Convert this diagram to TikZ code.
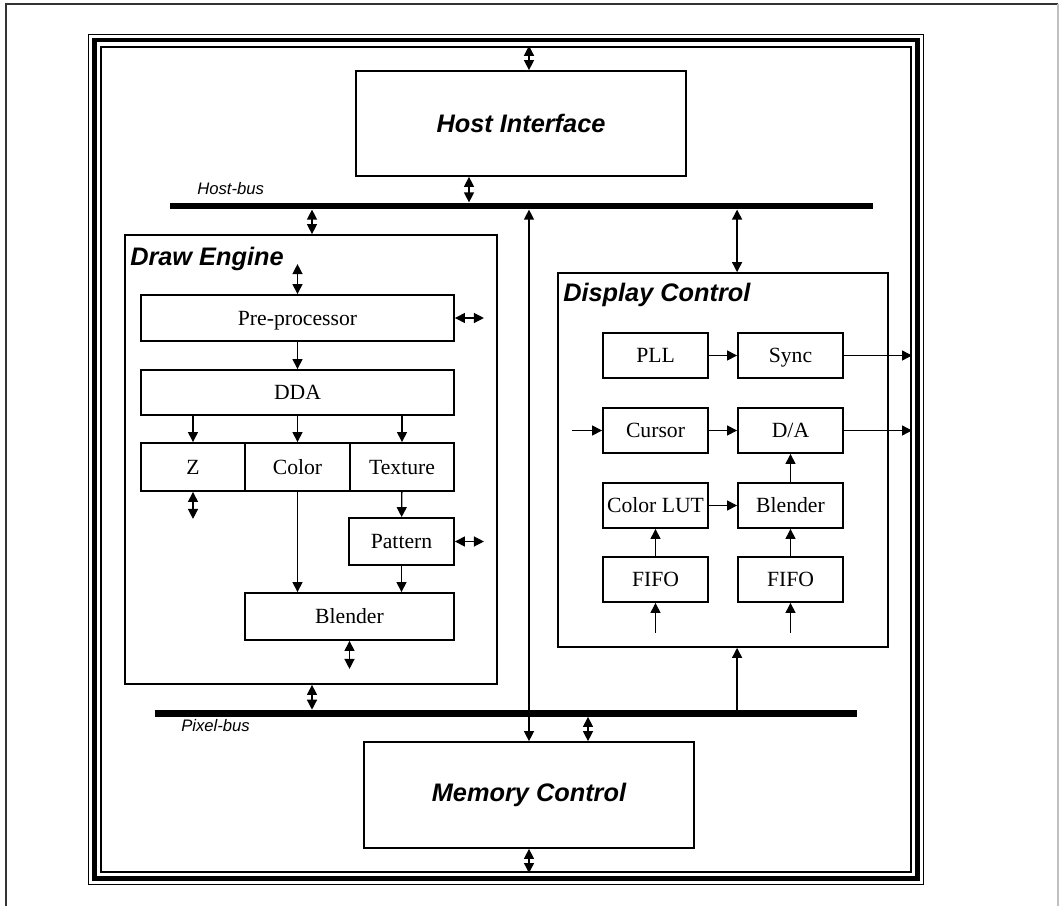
\documentclass[tikz,border=0pt]{standalone}
\usepackage{fontspec}
\setmainfont{Liberation Serif}
\setsansfont{Liberation Sans}
\usetikzlibrary{arrows.meta}

\begin{document}
\begin{tikzpicture}[x=0.75pt,y=-0.75pt,
    box/.style={draw,line width=1.4pt,inner sep=0pt,minimum width=78.75pt,minimum height=33.75pt,text height=10.5pt,text depth=0pt,font=\fontsize{16.25}{18}\selectfont},
    bigbox/.style={draw,line width=1.3pt,inner sep=0pt,font=\fontsize{19}{22}\selectfont\sffamily\bfseries\itshape},
    blocktitle/.style={inner sep=0pt,anchor=base west,font=\fontsize{19}{22}\selectfont\sffamily\bfseries\itshape},
    buslabel/.style={inner sep=0pt,anchor=base west,font=\fontsize{12.5}{15}\selectfont\sffamily\itshape},
    bus/.style={fill=black,inner sep=0pt,minimum height=5pt},
    sig/.style={line width=1pt,-{Triangle[length=7.5pt,width=7.5pt]}},
    dbl/.style={line width=1pt,{Triangle[length=7.5pt,width=7.5pt]}-{Triangle[length=7.5pt,width=7.5pt]}}]
    \useasboundingbox (0,0) rectangle (1059,906);

    % page frame
    \draw[line width=1.3pt,black!80] (6,906) -- (6,4) -- (1058,4);
    \draw[line width=0.8pt,black!25] (1058,4) -- (1058,906);

    % triple chip frame
    \node[draw,line width=1.5pt,inner sep=0pt,minimum width=607.5pt,minimum height=618.9pt] (frame) at (506,459.4) {};
    \draw[line width=3.3pt] ([shift={(-5.5,-5.5)}]frame.north west) rectangle ([shift={(5.5,5.5)}]frame.south east);
    \draw[line width=1pt] ([shift={(-11.4,-11.4)}]frame.north west) rectangle ([shift={(11.4,11.4)}]frame.south east);

    % host side
    \node[bigbox,minimum width=247.5pt,minimum height=78.75pt] (hostif) at (521,123.5) {Host Interface};
    \node[bus,minimum width=527.25pt] (hbus) at (521.5,206) {};
    \node[buslabel] (hblabel) at (197,194) {Host-bus};

    % draw engine
    \node[bigbox,minimum width=279pt,minimum height=336.75pt] (de) at (311,459.5) {};
    \node[blocktitle] (detitle) at (130,265) {Draw Engine};
    \node[box,minimum width=234.75pt,minimum height=34.5pt] (prep) at (297.5,318) {Pre-processor};
    \node[box,minimum width=234.75pt] (dda) at (297.5,392.5) {DDA};
    \node[box,minimum width=78pt,minimum height=36pt] (z) at (193,467) {Z};
    \node[box,minimum height=36pt] (color) at (297.5,467) {Color};
    \node[box,minimum width=78pt,minimum height=36pt] (texture) at (402,467) {Texture};
    \node[box,minimum height=35.25pt] (pattern) at (401.5,541.5) {Pattern};
    \node[box,minimum width=156.75pt,minimum height=35.25pt] (blend) at (349.5,616.5) {Blender};

    % display control
    \node[bigbox,minimum width=247.5pt,minimum height=280.5pt] (dc) at (723,460) {};
    \node[blocktitle] (dctitle) at (563,301) {Display Control};
    \node[box] (pll) at (655.5,355.5) {PLL};
    \node[box] (sync) at (790.5,355.5) {Sync};
    \node[box] (cursor) at (655.5,430.5) {Cursor};
    \node[box] (da) at (790.5,430.5) {D/A};
    \node[box] (lut) at (655.5,505.5) {Color LUT};
    \node[box] (dblend) at (790.5,505.5) {Blender};
    \node[box] (fifoa) at (655.5,579.5) {FIFO};
    \node[box] (fifob) at (790.5,579.5) {FIFO};

    % memory side
    \node[bus,minimum width=526.5pt] (pbus) at (506,713.3) {};
    \node[buslabel] (pblabel) at (181,731) {Pixel-bus};
    \node[bigbox,minimum width=247.5pt,minimum height=79.5pt] (memctl) at (529,795) {Memory Control};

    % bus connections
    \draw[dbl] (frame.north -| memctl) -- (hostif.north -| memctl);
    \draw[dbl] (hostif.south -| 469,0) -- (hbus.north -| 469,0);
    \draw[dbl] (hbus.south -| memctl) -- (memctl.north);
    \draw[dbl] (hbus.south -| 312,0) -- (de.north -| 312,0);
    \draw[dbl] (hbus.south -| sync.west) -- (dc.north -| sync.west);
    \draw[sig] (pbus.north -| sync.west) -- (dc.south -| sync.west);
    \draw[dbl] (de.south -| 312,0) -- (pbus.north -| 312,0);
    \draw[dbl] (pbus.south -| 588,0) -- (memctl.north -| 588,0);
    \draw[dbl] (memctl.south) -- (frame.south -| memctl);

    % draw engine paths
    \draw[dbl] (prep.north) -- +(0,-30);
    \draw[dbl] (prep.east) -- +(29,0);
    \draw[sig] (prep) -- (dda);
    \draw[sig] (dda.south -| z) -- (z);
    \draw[sig] (dda) -- (color);
    \draw[sig] (dda.south -| texture) -- (texture);
    \draw[dbl] (z.south) -- +(0,27);
    \draw[sig] (color.south) -- (blend.north -| color);
    \draw[sig] (texture) -- (pattern);
    \draw[dbl] (pattern.east) -- +(29,0);
    \draw[sig] (pattern.south) -- (blend.north -| pattern);
    \draw[dbl] (blend.south) -- +(0,28);

    % display control paths
    \draw[sig] (pll) -- (sync);
    \draw[sig] (cursor) -- (da);
    \draw[sig] (lut) -- (dblend);
    \draw[sig] (dblend) -- (da);
    \draw[sig] (fifoa) -- (lut);
    \draw[sig] (fifob) -- (dblend);
    \draw[sig] (sync.east) -- (sync.east -| frame.east);
    \draw[sig] (da.east) -- (da.east -| frame.east);
    \draw[sig] (cursor.west) ++(-30,0) -- (cursor.west);
    \draw[sig] (fifoa.south) ++(0,30) -- (fifoa.south);
    \draw[sig] (fifob.south) ++(0,30) -- (fifob.south);

\end{tikzpicture}
\end{document}
